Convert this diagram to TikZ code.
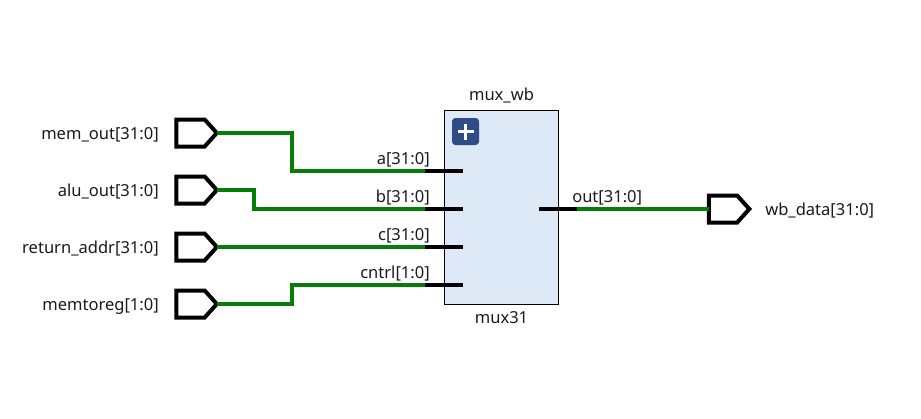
\documentclass[tikz,border=0pt]{standalone}
\usepackage{fontspec}
\setmainfont{Noto Sans}
\usetikzlibrary{shapes.symbols}
\definecolor{wiregreen}{HTML}{067D06}
\definecolor{blockfill}{HTML}{DEE9F8}
\definecolor{plusfill}{HTML}{2F4C86}
\definecolor{labelgray}{HTML}{1A1A1A}
\tikzset{
  x=0.75pt,y=-0.75pt,
  portshape/.style={signal,signal to=east,signal from=nowhere,signal pointer angle=96,draw=black,line width=3pt,fill=white,minimum width=40.5*0.75pt,minimum height=27*0.75pt,inner sep=0pt,outer sep=0pt,line join=miter},
  wire/.style={draw=wiregreen,line width=2.8pt,line join=miter},
  stub/.style={draw=black,line width=2.8pt},
  block/.style={draw=black,line width=0.75pt,fill=blockfill,minimum width=114*0.75pt,minimum height=194*0.75pt,inner sep=0pt,outer sep=0pt},
  plusbox/.style={fill=plusfill,rounded corners=2.5pt,minimum width=27*0.75pt,minimum height=27*0.75pt,inner sep=0pt},
  txt/.style={inner sep=0pt,text=labelgray,font=\fontsize{12.4pt}{14pt}\selectfont},
  lbl/.style={txt,anchor=base east},
  blocklbl/.style={txt,anchor=base},
}
\begin{document}
\begin{tikzpicture}
\useasboundingbox (0,0) rectangle (921,418);
\node[block] (blk) at (501.3,207.2) {};
\node[plusbox] (plus) at (465.5,131.5) {};
\draw[white,line width=2.6pt] (plus.center) ++(-8,0) -- ++(16,0) (plus.center) ++(0,-8) -- ++(0,16);

\node[portshape] (pa) at (190.5,133) {};
\node[portshape] (pb) at (190.5,190) {};
\node[portshape] (pc) at (190.5,247) {};
\node[portshape] (pd) at (190.5,304) {};
\node[portshape] (po) at (723,209) {};

\coordinate (ae) at (425,171); \coordinate (ai) at (463,171);
\coordinate (be) at (425,209); \coordinate (bi) at (463,209);
\coordinate (ce) at (425,247); \coordinate (ci) at (463,247);
\coordinate (de) at (425,285); \coordinate (di) at (463,285);
\coordinate (oi) at (539,209); \coordinate (oe) at (577,209);

\draw[wire] (pa.east) -- (292,133) -- (292,171) -- (ae);
\draw[wire] (pb.east) -- (254,190) -- (254,209) -- (be);
\draw[wire] (pc.east) -- (ce);
\draw[wire] (pd.east) -- (292,304) -- (292,285) -- (de);
\draw[wire] (oe) -- (po.west);

\draw[stub] (ae) -- (ai);
\draw[stub] (be) -- (bi);
\draw[stub] (ce) -- (ci);
\draw[stub] (de) -- (di);
\draw[stub] (oi) -- (oe);

\node[lbl] (t1) at (159,139) {mem\_out[31:0]};
\node[lbl] (t2) at (159,196) {alu\_out[31:0]};
\node[lbl] (t3) at (159,253) {return\_addr[31:0]};
\node[lbl] (t4) at (159,310) {memtoreg[1:0]};
\node[txt,anchor=base west] (t5) at (765,215) {wb\_data[31:0]};
\node[lbl] (t6) at (430,164) {a[31:0]};
\node[lbl] (t7) at (430,202) {b[31:0]};
\node[lbl] (t8) at (430,240) {c[31:0]};
\node[lbl] (t9) at (430,278) {cntrl[1:0]};
\node[txt,anchor=base west] (t10) at (572,202) {out[31:0]};
\node[blocklbl] (t11) at (501.5,100.5) {mux\_wb};
\node[blocklbl] (t12) at (501.5,323.5) {mux31};
\end{tikzpicture}
\end{document}
